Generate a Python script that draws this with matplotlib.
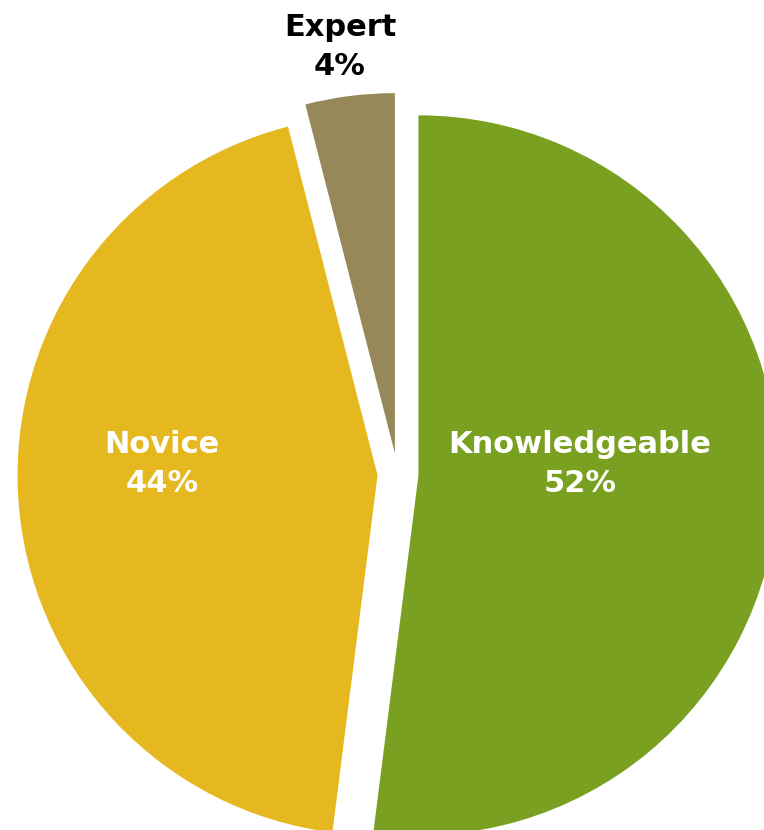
import matplotlib
matplotlib.use("Agg")
import matplotlib.pyplot as plt

# share of respondents by self-rated skill level
levels = ["Knowledgeable", "Novice", "Expert"]
shares = [52, 44, 4]
colors = ["#79A020", "#E6B820", "#968858"]
text_colors = ["white", "white", "black"]

W, H = 764, 830
fig = plt.figure(figsize=(W / 100, H / 100), dpi=100)
ax = fig.add_axes([0, 0, 1, 1])
ax.set_xlim(0, W)
ax.set_ylim(0, H)
ax.set_aspect("equal")
ax.axis("off")

R = 360
cx, cy = 397.5, H - 474
# explode is in data units here (pixels), not a fraction of the radius
wedges, _ = ax.pie(shares, colors=colors, startangle=90, counterclock=False,
                   radius=R, center=(cx, cy), explode=[21, 20, 21],
                   wedgeprops=dict(linewidth=0))
ax.set_xlim(0, W)
ax.set_ylim(0, H)

# label positions in pixel space (x, y from top)
label_pos = [(580, 464), (162, 464), (340, 47)]
for name, val, (x, y), tc in zip(levels, shares, label_pos, text_colors):
    ax.text(x, H - y, f"{name}\n{val}%", ha="center", va="center",
            fontsize=22, fontweight="bold", family="DejaVu Sans", color=tc,
            linespacing=1.45)

fig.savefig("out.png", dpi=100)
